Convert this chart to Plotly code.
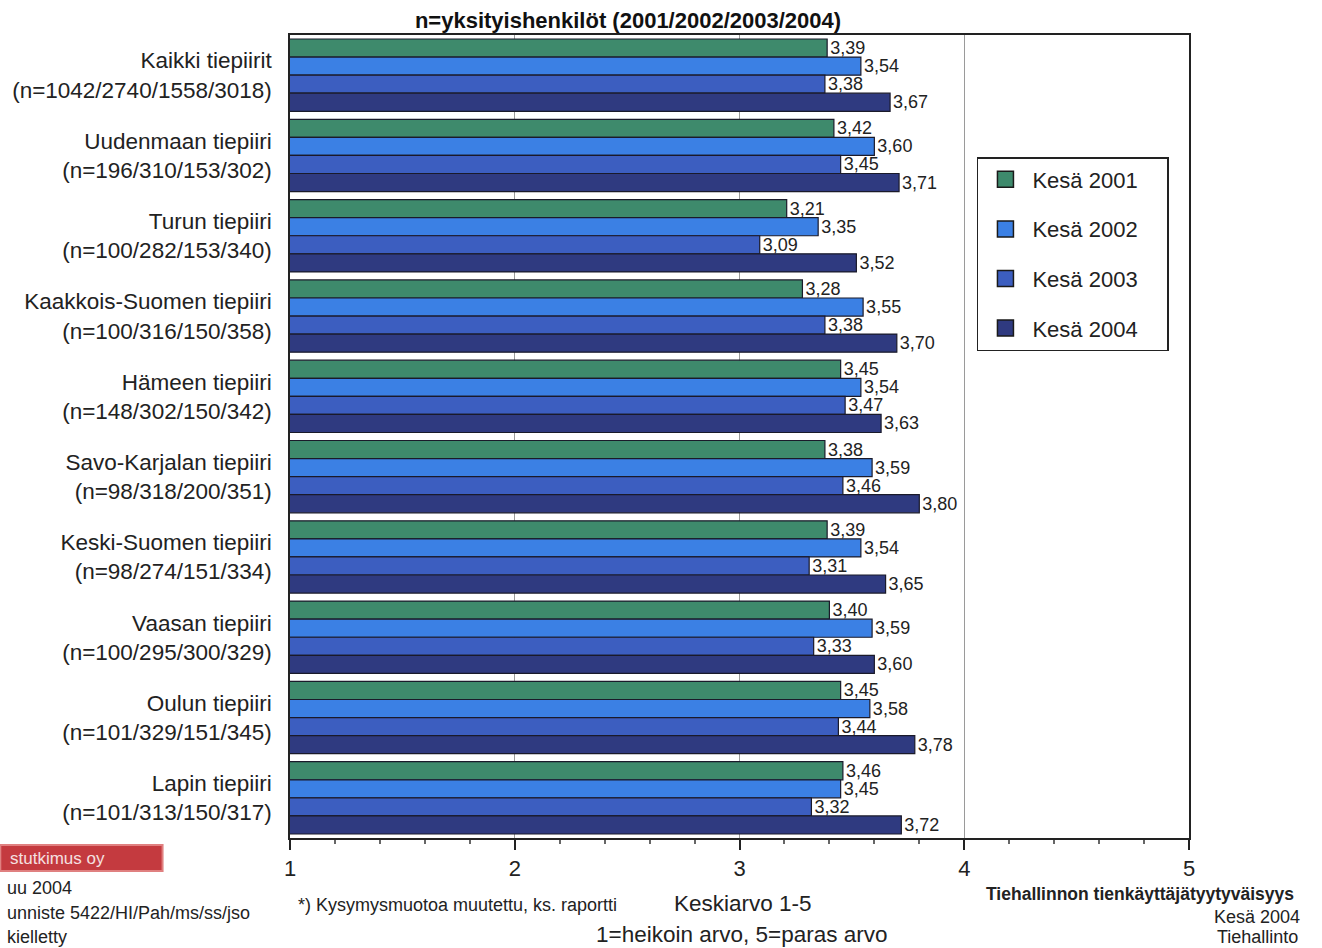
import plotly.graph_objects as go

categories = [
    "Kaikki tiepiirit<br>(n=1042/2740/1558/3018)",
    "Uudenmaan tiepiiri<br>(n=196/310/153/302)",
    "Turun tiepiiri<br>(n=100/282/153/340)",
    "Kaakkois-Suomen tiepiiri<br>(n=100/316/150/358)",
    "Hämeen tiepiiri<br>(n=148/302/150/342)",
    "Savo-Karjalan tiepiiri<br>(n=98/318/200/351)",
    "Keski-Suomen tiepiiri<br>(n=98/274/151/334)",
    "Vaasan tiepiiri<br>(n=100/295/300/329)",
    "Oulun tiepiiri<br>(n=101/329/151/345)",
    "Lapin tiepiiri<br>(n=101/313/150/317)",
]
kesa_2001 = [3.39, 3.42, 3.21, 3.28, 3.45, 3.38, 3.39, 3.40, 3.45, 3.46]
kesa_2002 = [3.54, 3.60, 3.35, 3.55, 3.54, 3.59, 3.54, 3.59, 3.58, 3.45]
kesa_2003 = [3.38, 3.45, 3.09, 3.38, 3.47, 3.46, 3.31, 3.33, 3.44, 3.32]
kesa_2004 = [3.67, 3.71, 3.52, 3.70, 3.63, 3.80, 3.65, 3.60, 3.78, 3.72]
series_names = ["Kesä 2001", "Kesä 2002", "Kesä 2003", "Kesä 2004"]
x_ticks = [1, 2, 3, 4, 5]

colors = ["#3e8a6c", "#3b80e4", "#3c5ec0", "#2f3a80"]
FONT = "Liberation Sans, Arial, sans-serif"

W, H = 1322, 948
L, R, T, B = 286, 1189, 35, 838


def px(x):
    return (x - L) / (R - L)


def py(y):
    return (B - y) / (B - T)


fig = go.Figure()
for name, vals, col in zip(series_names, [kesa_2001, kesa_2002, kesa_2003, kesa_2004], colors):
    fig.add_trace(go.Bar(
        y=categories, x=vals, orientation="h", name=name,
        marker=dict(color=col, line=dict(color="#1a1a2a", width=1.2)),
        text=[f"{v:.2f}".replace(".", ",") for v in vals],
        textposition="outside", constraintext="none", cliponaxis=False,
        textfont=dict(family=FONT, size=18, color="#222"),
        showlegend=False,
    ))
for i, (name, col) in enumerate(zip(series_names, colors)):
    fig.add_trace(go.Scatter(
        x=[None], y=[None], mode="markers", name=name + "\u00a0\u00a0\u00a0\u00a0", legendgroup=f"g{i}",
        marker=dict(symbol="square", size=16, color=col, line=dict(color="#1a1a1a", width=1.5)),
    ))

fig.update_layout(
    width=W, height=H,
    margin=dict(l=L, r=W - R, t=T, b=H - B, pad=0),
    paper_bgcolor="white", plot_bgcolor="white",
    barmode="group", bargap=0.1, bargroupgap=0,
    font=dict(family=FONT, size=22, color="#222"),
    title=dict(text="<b>n=yksityishenkilöt (2001/2002/2003/2004)</b>",
               x=628 / W, xanchor="center", y=1 - 20 / H, yanchor="middle",
               font=dict(family=FONT, size=22, color="#111")),
    legend=dict(x=px(976), y=py(157), xanchor="left", yanchor="top",
                bgcolor="white", bordercolor="#222", borderwidth=1.5,
                font=dict(family=FONT, size=22, color="#222"),
                tracegroupgap=18, itemwidth=44),
    showlegend=True,
)
fig.update_xaxes(
    range=[1, 5], tickvals=x_ticks, ticktext=[str(t) for t in x_ticks],
    showline=True, linecolor="#222", linewidth=2, mirror=True,
    showgrid=True, gridcolor="#9a9a9a", gridwidth=1,
    ticks="outside", ticklen=10, tickcolor="#222", tickwidth=1.5,
    minor=dict(dtick=0.2, ticks="outside", ticklen=4, tickcolor="#666", showgrid=False),
    tickfont=dict(family=FONT, size=22, color="#222"), zeroline=False,
)
fig.update_yaxes(
    autorange="reversed", showline=True, linecolor="#222", linewidth=1.5, mirror=True,
    ticks="", ticklabelstandoff=12, showgrid=False,
    tickfont=dict(family=FONT, size=22.5, color="#222"),
)

annos = [
    dict(text="*) Kysymysmuotoa muutettu, ks. raportti", x=px(292), y=py(905), xanchor="left", size=18),
    dict(text="Keskiarvo 1-5", x=px(741), y=py(903), xanchor="center", size=22.5),
    dict(text="1=heikoin arvo, 5=paras arvo", x=px(740), y=py(934), xanchor="center", size=22.5),
    dict(text="<b>Tiehallinnon tienkäyttäjätyytyväisyys</b>", x=px(1296), y=py(894), xanchor="right", size=17.5),
    dict(text="Kesä 2004", x=px(1303), y=py(917), xanchor="right", size=18),
    dict(text="Tiehallinto", x=px(1300), y=py(937), xanchor="right", size=18),
    dict(text="uu 2004", x=px(0), y=py(888), xanchor="left", size=18),
    dict(text="unniste 5422/HI/Pah/ms/ss/jso", x=px(0), y=py(913), xanchor="left", size=18),
    dict(text="kielletty", x=px(0), y=py(937), xanchor="left", size=18),
]
for a in annos:
    fig.add_annotation(text=a["text"], x=a["x"], y=a["y"], xref="paper", yref="paper",
                       xanchor=a["xanchor"], yanchor="middle", showarrow=False,
                       font=dict(family=FONT, size=a["size"], color="#222"))

fig.add_shape(type="rect", xref="paper", yref="paper",
              x0=px(-5), x1=px(158), y0=py(845), y1=py(871),
              fillcolor="#c43a3f", line=dict(color="#e08080", width=2), layer="above")
fig.add_annotation(text="stutkimus oy", x=px(3), y=py(858), xref="paper", yref="paper",
                   xanchor="left", yanchor="middle", showarrow=False,
                   font=dict(family=FONT, size=17, color="#f5e0e0"))

fig.write_html("out.html", config={"displayModeBar": False},
               post_script="document.body.style.margin='0';document.body.style.overflow='hidden';")
